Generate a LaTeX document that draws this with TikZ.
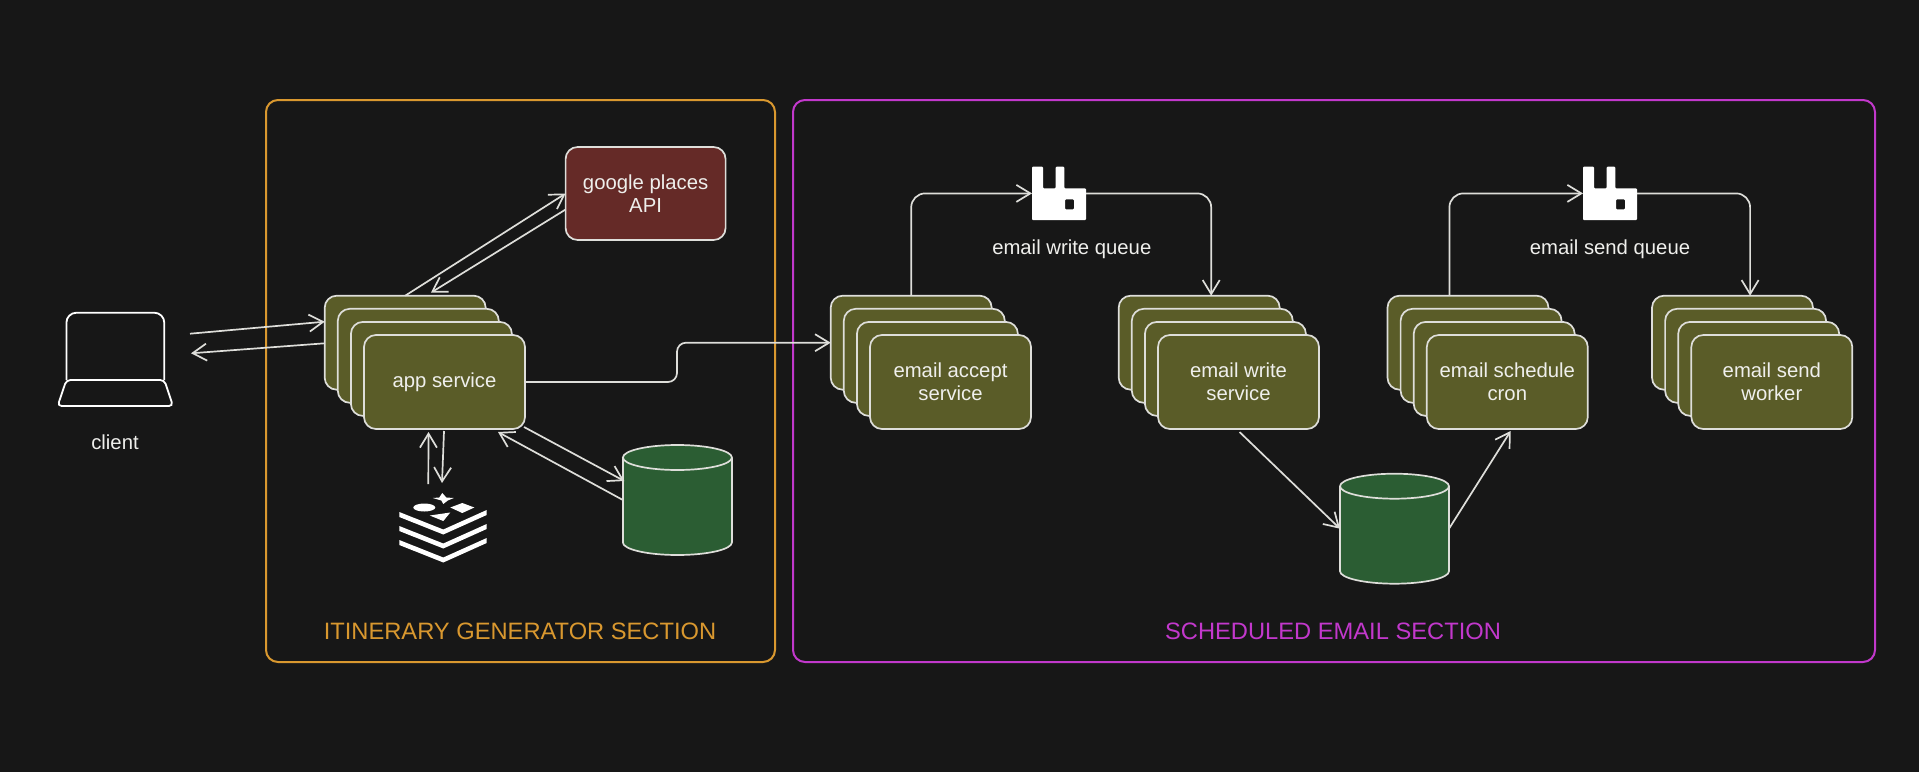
\documentclass[tikz,border=0pt]{standalone}
\usepackage{fontspec}
\setmainfont{Liberation Sans}
\usetikzlibrary{arrows.meta}
\definecolor{bgdark}{HTML}{171717}
\definecolor{inkline}{HTML}{DEDEDA}
\definecolor{inktext}{HTML}{EFEFEC}
\definecolor{olivebox}{HTML}{5A5C28}
\definecolor{brownbox}{HTML}{652A27}
\definecolor{greendb}{HTML}{2B5D33}
\definecolor{orangesec}{HTML}{D9982F}
\definecolor{purplesec}{HTML}{C238CC}
\tikzset{
  svc/.style={draw=inkline, fill=olivebox, text=inktext, rounded corners=12pt, minimum width=161pt, minimum height=94pt, inner sep=0pt, outer sep=0pt, align=center},
  apibox/.style={draw=inkline, fill=brownbox, text=inktext, rounded corners=12pt, minimum width=160pt, minimum height=93pt, inner sep=0pt, outer sep=0pt, align=center},
  iconbox/.style={inner sep=0pt, outer sep=0pt},
  section/.style={rounded corners=12pt, line width=2pt},
  lbl/.style={text=inktext, inner sep=0pt},
  dbpic/.pic={
    \draw[draw=inkline, fill=greendb] (-54.5,-42.5) -- (-54.5,42.5) .. controls (-54.5,49.4) and (-30,55) .. (0,55) .. controls (30,55) and (54.5,49.4) .. (54.5,42.5) -- (54.5,-42.5) .. controls (54.5,-49.4) and (30,-55) .. (0,-55) .. controls (-30,-55) and (-54.5,-49.4) .. (-54.5,-42.5) .. controls (-54.5,-35.6) and (-30,-30) .. (0,-30) .. controls (30,-30) and (54.5,-35.6) .. (54.5,-42.5);
  },
  queuepic/.pic={
    \fill[white, even odd rule, rounded corners=1pt] (-27,-26.7) -- (-16,-26.7) -- (-16,-5) -- (-3.3,-5) -- (-3.3,-26.7) -- (5.3,-26.7) -- (5.3,-5) -- (27,-5) -- (27,26.7) -- (-27,26.7) -- cycle (6,6) rectangle (15,16);
  },
  redispic/.pic={
    \foreach \d in {0,14,28}{
      \fill[white] (-44,{-16+\d}) -- (0,{1.5+\d}) -- (43.4,{-18+\d}) -- (43.4,{-13+\d}) -- (0,{6.5+\d}) -- (-44,{-11+\d}) -- cycle;
    }
    \fill[white] (-19,-20.5) ellipse (11 and 4);
    \fill[white] (7,-20.5) -- (19,-25) -- (31,-20.5) -- (19,-15) -- cycle;
    \fill[white] (-13.5,-12.5) -- (7,-15.5) -- (0,-7) -- cycle;
    \fill[white] (-1,-35) -- (3,-30.5) -- (10.5,-30) -- (4.5,-27.5) -- (0,-24) -- (-2,-27.5) -- (-10.5,-30) -- (-4,-30.5) -- cycle;
  }
}
\begin{document}
\begin{tikzpicture}[x=1pt, y=-1pt, >={Straight Barb[length=14pt,width=17pt]}, line width=1.7pt, font=\fontsize{20.3}{23}\selectfont]
  \useasboundingbox (0,0) rectangle (1919,771);
  \fill[bgdark] (-5,-5) rectangle (1924,776);
  % Section frames
  \draw[section, draw=orangesec] (266,100) rectangle (775,662);
  \draw[section, draw=purplesec] (793,100) rectangle (1875,662);
  \node[text=orangesec, inner sep=0pt, font=\fontsize{23.7}{28}\selectfont] (itinlabel) at (520,631) {ITINERARY GENERATOR SECTION};
  \node[text=purplesec, inner sep=0pt, font=\fontsize{23.7}{28}\selectfont] (emaillabel) at (1333,631) {SCHEDULED EMAIL SECTION};
  % Client laptop
  \node[iconbox, minimum width=116pt, minimum height=94pt] (client) at (115.3,359.5) {};
  \draw[white, line width=1.8pt, rounded corners=10pt] (66.4,380) -- (66.4,312.7) -- (164.3,312.7) -- (164.3,380);
  \draw[white, line width=1.8pt, rounded corners=4pt] (66.4,380) -- (57.6,406) -- (173,406) -- (164.3,380) -- cycle;
  \node[lbl] (clientlabel) at (115,442.5) {client};
  % Service stacks
  \foreach \name/\cx/\txt in {app/444.5/{app service}, accept/950.5/{email accept\\service}, write/1238.5/{email write\\service}, sched/1507.3/{email schedule\\cron}, send/1771.8/{email send\\worker}}{
    \foreach \k in {1,2,3}{
      \node[svc] (\name\k) at ({\cx-13.1*(4-\k)},{382-13.1*(4-\k)}) {};
    }
    \node[svc] (\name4) at (\cx,382) {\txt};
  }
  % Google API and databases
  \node[apibox] (google) at (645.6,193.5) {google places\\API};
  \node[iconbox, minimum width=109pt, minimum height=110pt] (db1) at (677.4,500) {};
  \pic at (677.4,500) {dbpic};
  \node[iconbox, minimum width=109pt, minimum height=110pt] (db2) at (1394.5,528.7) {};
  \pic at (1394.5,528.7) {dbpic};
  % Redis and queue icons
  \node[iconbox, minimum width=88pt, minimum height=70pt] (redis) at (443.3,528) {};
  \pic at (443.3,528) {redispic};
  \node[iconbox, minimum width=54pt, minimum height=53.4pt] (q1) at (1059,193.4) {};
  \pic at (1059,193.4) {queuepic};
  \node[iconbox, minimum width=54pt, minimum height=53.4pt] (q2) at (1610,193.4) {};
  \pic at (1610,193.4) {queuepic};
  \node[lbl] (q1label) at (1071.8,249) {email write queue};
  \node[lbl] (q2label) at (1610,249) {email send queue};
  % Arrows
  \begin{scope}[draw=inkline]
    \draw[->] ([shift={(16.7pt,25.8pt)}]client.east) -- ([yshift=21pt]app1.west);
    \draw[->] ([yshift=-0.6pt]app1.west) -- ([shift={(17.7pt,6.2pt)}]client.east);
    \draw[->] (app1.north) -- (google.west);
    \draw[->] ([yshift=-16pt]google.west) -- ([xshift=25.7pt,yshift=3pt]app1.north);
    \draw[->] ([xshift=-15pt,yshift=9pt]redis.north) -- ([xshift=-16pt,yshift=-3pt]app4.south);
    \draw[->] ([xshift=-0.5pt,yshift=-2pt]app4.south) -- ([xshift=-1.3pt,yshift=10pt]redis.north);
    \draw[->] ([shift={(-1pt,2pt)}]app4.south east) -- ([shift={(1.4pt,19pt)}]db1.west);
    \draw[->] (db1.west) -- ([shift={(-27pt,-3pt)}]app4.south east);
    \coordinate (appbend) at (677,362);
    \draw[->, rounded corners=9pt] (app4.east) -| (appbend) |- (accept1.west);
    \draw[->, rounded corners=14pt] (accept1.north) |- (q1.west);
    \draw[->, rounded corners=14pt] (q1.east) -| ([xshift=12pt]write1.north);
    \draw[->, rounded corners=14pt] ([xshift=-18.6pt]sched1.north) |- (q2.west);
    \draw[->, rounded corners=14pt] (q2.east) -| ([xshift=17.6pt]send1.north);
    \draw[->] ([xshift=1pt,yshift=-3pt]write4.south) -- (db2.west);
    \draw[->] (db2.east) -- ([shift={(3.4pt,-2pt)}]sched4.south);
  \end{scope}
\end{tikzpicture}
\end{document}
